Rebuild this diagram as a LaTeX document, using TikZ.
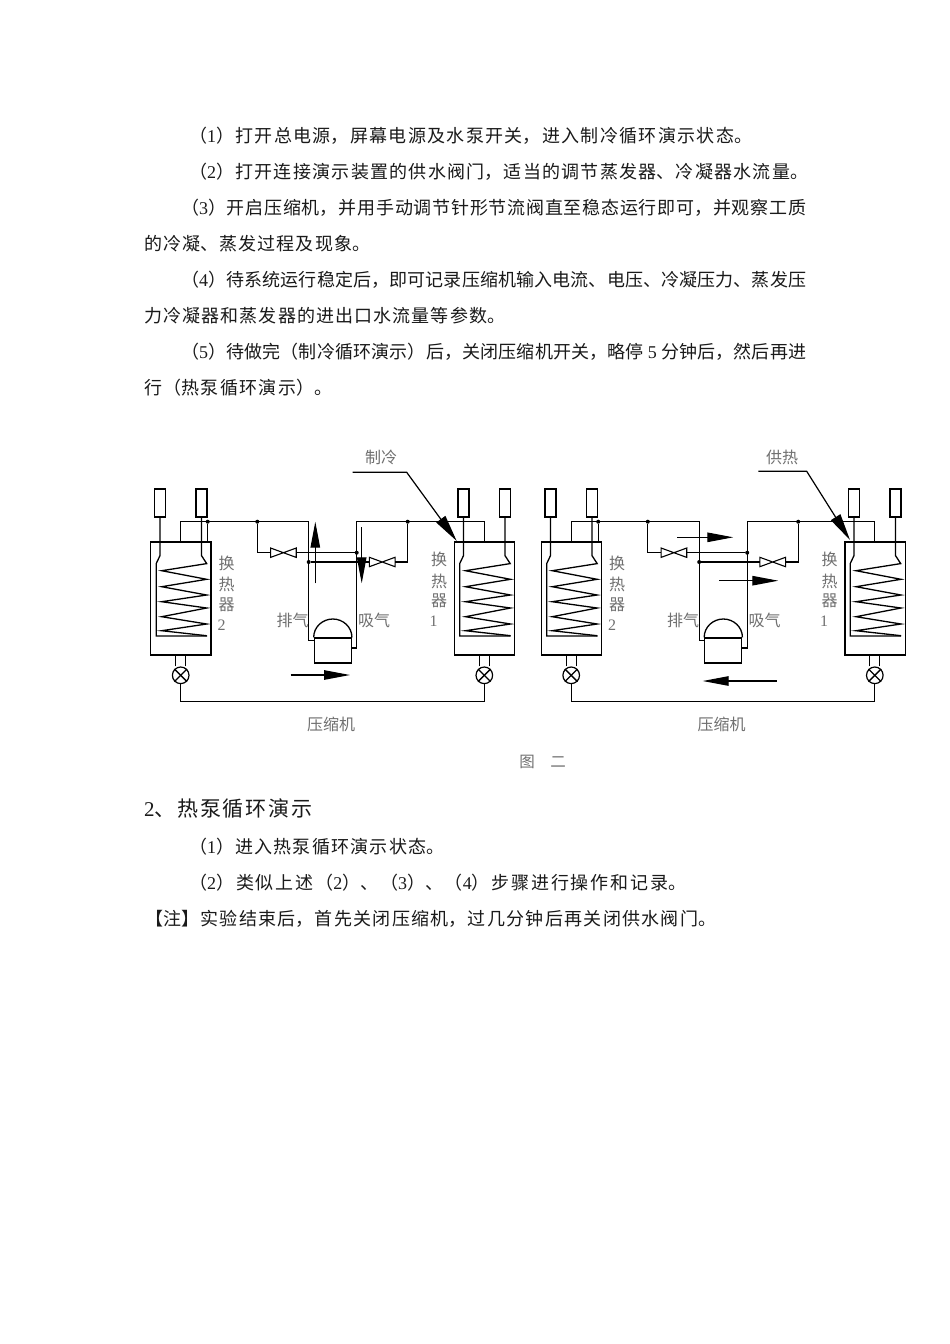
\documentclass[tikz,border=0pt]{standalone}
\usepackage{fontspec}
\usetikzlibrary{arrows.meta}
\setmainfont{Noto Sans CJK SC}
\newfontfamily\latfont{Liberation Serif}
\newcommand{\lat}[1]{{\latfont #1}}
\XeTeXlinebreaklocale "zh"
\XeTeXlinebreakskip=0pt plus 6pt minus 1pt
\definecolor{labelgrey}{HTML}{707070}
\definecolor{bodyink}{HTML}{1A1A1A}
\tikzset{
  x=1pt,y=-1pt,
  pipe/.style={draw=black,line width=1.3pt,line join=miter},
  thinpipe/.style={draw=black,line width=1.1pt},
  vessel/.style={draw=black,line width=1.25pt,rectangle,inner sep=0,minimum width=60.3pt,minimum height=113pt},
  sensorbox/.style={draw=black,line width=1.2pt,rectangle,inner sep=0,minimum width=11pt,minimum height=28pt},
  comprbody/.style={draw=black,line width=1.25pt,rectangle,inner sep=0,minimum width=37pt,minimum height=25pt},
  valvebox/.style={rectangle,inner sep=0,minimum width=25.3pt,minimum height=9pt},
  ballvalve/.style={draw=black,fill=white,line width=1.2pt,circle,inner sep=0,minimum size=16.6pt},
  jdot/.style={circle,fill=black,inner sep=0,minimum size=4pt},
  flowarrow/.style={draw=black,line width=1.1pt,-{Triangle[length=26pt,width=9.5pt]}},
  leader/.style={draw=black,line width=1.2pt,-{Triangle[length=27pt,width=11pt]}},
  glabel/.style={text=labelgrey,inner sep=0,font=\fontsize{16}{16}\selectfont},
  bodyline/.style={anchor=base west,inner sep=0,text=bodyink,font=\fontsize{18}{18}\selectfont},
}
\newcommand{\jbox}[2]{\vbox{\hsize=#1pt\parindent=0pt\parfillskip=0pt\tolerance=9999\hbadness=10000\hfuzz=20pt\emergencystretch=20pt\leavevmode #2\par}}
\newcommand{\tline}[5]{\node[bodyline] (#1) at (#2,#3) {\jbox{#4}{#5}};}
% one heat-pump unit, with node names carrying prefix #1
\newcommand{\unit}[1]{%
  \node[vessel] (#1vtwo) at (180.85,598.5) {};
  \node[vessel] (#1vone) at (484.65,598.5) {};
  \node[sensorbox] (#1sa) at (160,503) {};
  \node[sensorbox] (#1sb) at (201.5,503) {};
  \node[sensorbox] (#1sc) at (463.5,503) {};
  \node[sensorbox] (#1sd) at (505,503) {};
  \node[comprbody] (#1c) at (332.8,650.5) {};
  \coordinate (#1dome) at (332.8,619);
  \draw[pipe] (#1c.north west) to[out=90,in=180] (#1dome) to[out=0,in=90] (#1c.north east);
  % top pipework
  \coordinate (#1tl) at (180.7,521.7);
  \coordinate (#1tm) at (308.7,521.7);
  \coordinate (#1tn) at (356.7,521.7);
  \coordinate (#1tr) at (484.3,521.7);
  \node[jdot] (#1da) at (207.7,521.7) {};
  \node[jdot] (#1db) at (257.3,521.7) {};
  \node[jdot] (#1dc) at (407.7,521.7) {};
  \draw[pipe] (#1tl|-#1vtwo.north) -- (#1tl) -- (#1tm) -- (#1tm|-#1c.north) -- ++(0,3) -- ++(5.6,0);
  \draw[pipe] (#1da) -- (#1da|-#1vtwo.north);
  \draw[pipe] (#1tr|-#1vone.north) -- (#1tr) -- (#1tn) -- (356.7,648) -- (351.3,648);
  % valves
  \node[valvebox] (#1va) at (283.4,552.7) {};
  \node[valvebox] (#1vb) at (382.2,562) {};
  \foreach \v in {#1va,#1vb}{
    \draw[thinpipe,fill=white] (\v.south west) -- (\v.north east) -- (\v.south east) -- (\v.north west) -- cycle;
  }
  \node[jdot] (#1dd) at (356.7,552.7) {};
  \node[jdot] (#1de) at (308.7,562) {};
  \draw[pipe] (#1db) -- (#1db|-#1va) -- (#1va.west);
  \draw[pipe] (#1va.east) -- (#1dd);
  \draw[pipe] (#1de) -- (#1vb.west);
  \draw[pipe] (#1vb.east) -- (#1dc|-#1vb) -- (#1dc);
  % coils
  \foreach \s/\t/\dx in {#1sa/#1sb/0,#1sc/#1sd/303.8}{
    \draw[pipe] (\s.south) -- ++(0,38) -- ++(-3.8,8) -- ++(0,72.4) -- ++(51,0);
    \draw[pipe] (\t.south) -- ++(0,38) -- ++(5.2,8)
      -- (161.7+\dx,570.7) -- (206.7+\dx,579.3) -- (161.7+\dx,586.7) -- (206.7+\dx,595)
      -- (161.7+\dx,601.7) -- (206.7+\dx,608) -- (161.7+\dx,616.7) -- (206.7+\dx,624)
      -- (161.7+\dx,630.7) -- (206.7+\dx,635.7);
  }
  % expansion valves and bottom line
  \node[ballvalve] (#1ea) at (180.7,675.3) {};
  \node[ballvalve] (#1eb) at (484.3,675.3) {};
  \foreach \e in {#1ea,#1eb}{
    \draw[pipe] (\e.45) -- (\e.225);
    \draw[pipe] (\e.135) -- (\e.-45);
    \draw[pipe] ([xshift=-5pt]\e.north) -- ++(0,-11.5);
    \draw[pipe] ([xshift=5pt]\e.north) -- ++(0,-11.5);
  }
  \draw[pipe] (#1ea.south) -- (180.7,701.7) -- (484.3,701.7) -- (#1eb.south);
  % labels
  \node[glabel] (#1la) at (226.7,563) {换};
  \node[glabel] (#1lb) at (226.7,584) {热};
  \node[glabel] (#1lc) at (226.7,605) {器};
  \node[glabel] (#1ld) at (221.5,625) {\lat{2}};
  \node[glabel] (#1le) at (439,559) {换};
  \node[glabel] (#1lf) at (439,581) {热};
  \node[glabel] (#1lg) at (439,601) {器};
  \node[glabel] (#1lh) at (433.5,621) {\lat{1}};
  \node[glabel] (#1li) at (292.5,620) {排气};
  \node[glabel] (#1lj) at (374,620) {吸气};
  \node[glabel] (#1lk) at (331,724) {压缩机};
}
\begin{document}
\begin{tikzpicture}
\useasboundingbox (0,0) rectangle (950,1344);
\fill[white] (0,0) rectangle (950,1344);
% body text above the figure
\tline{ta}{189}{142.5}{563}{（\lat{1}）打开总电源，屏幕电源及水泵开关，进入制冷循环演示状态。}
\tline{tb}{189}{178.5}{619}{（\lat{2}）打开连接演示装置的供水阀门，适当的调节蒸发器、冷凝器水流量。}
\tline{tc}{181}{214.5}{625}{（\lat{3}）开启压缩机，并用手动调节针形节流阀直至稳态运行即可，并观察工质}
\tline{td}{144}{250.5}{226}{的冷凝、蒸发过程及现象。}
\tline{te}{181}{286.5}{625}{（\lat{4}）待系统运行稳定后，即可记录压缩机输入电流、电压、冷凝压力、蒸发压}
\tline{tf}{144}{322.5}{361}{力冷凝器和蒸发器的进出口水流量等参数。}
\tline{tg}{181}{358.5}{625}{（\lat{5}）待做完（制冷循环演示）后，关闭压缩机开关，略停 \lat{5} 分钟后，然后再进}
\tline{th}{144}{394.5}{188}{行（热泵循环演示）。}
% left figure
\begin{scope}
\unit{l}
\node[glabel] (lbla) at (381,457) {制冷};
\coordinate (lla) at (352.7,472.3);
\coordinate (llb) at (406.7,472.3);
\coordinate (llc) at (456.7,541);
\draw[leader] (lla) -- (llb) -- (llc);
\coordinate (lua) at (315.3,583.3);
\coordinate (lub) at (315.3,521.7);
\draw[flowarrow] (lua) -- (lub);
\coordinate (lda) at (361.7,527.3);
\coordinate (ldb) at (361.7,583.3);
\draw[flowarrow] (lda) -- (ldb);
\coordinate (lha) at (290.7,675);
\coordinate (lhb) at (350,675);
\draw[flowarrow] (lha) -- (lhb);
\end{scope}
% right figure
\begin{scope}[shift={(390.5,0)}]
\unit{r}
\end{scope}
\node[glabel] (rbla) at (782,457) {供热};
\coordinate (rla) at (758.3,471.3);
\coordinate (rlb) at (806.7,471.3);
\coordinate (rlc) at (850,540);
\draw[leader] (rla) -- (rlb) -- (rlc);
\coordinate (rua) at (677,537.3);
\coordinate (rub) at (733.3,537.3);
\draw[flowarrow] (rua) -- (rub);
\coordinate (rva) at (719.3,580.7);
\coordinate (rvb) at (778.3,580.7);
\draw[flowarrow] (rva) -- (rvb);
\coordinate (rwa) at (776.7,681);
\coordinate (rwb) at (702.7,681);
\draw[flowarrow] (rwa) -- (rwb);
% caption
\node[glabel,font=\fontsize{15.5}{15.5}\selectfont] (capa) at (527,762) {图};
\node[glabel,font=\fontsize{15.5}{15.5}\selectfont] (capb) at (558,762) {二};
% body text below the figure
\node[bodyline,font=\fontsize{21}{21}\selectfont] (hd) at (144,816.5) {\jbox{168}{\lat{2}、热泵循环演示}};
\tline{tj}{189}{853.5}{255}{（\lat{1}）进入热泵循环演示状态。}
\tline{tk}{189}{889.5}{497}{（\lat{2}）类似上述（\lat{2}）、（\lat{3}）、（\lat{4}）步骤进行操作和记录。}
\tline{tl}{145}{925.5}{571}{【注】实验结束后，首先关闭压缩机，过几分钟后再关闭供水阀门。}
\end{tikzpicture}
\end{document}
